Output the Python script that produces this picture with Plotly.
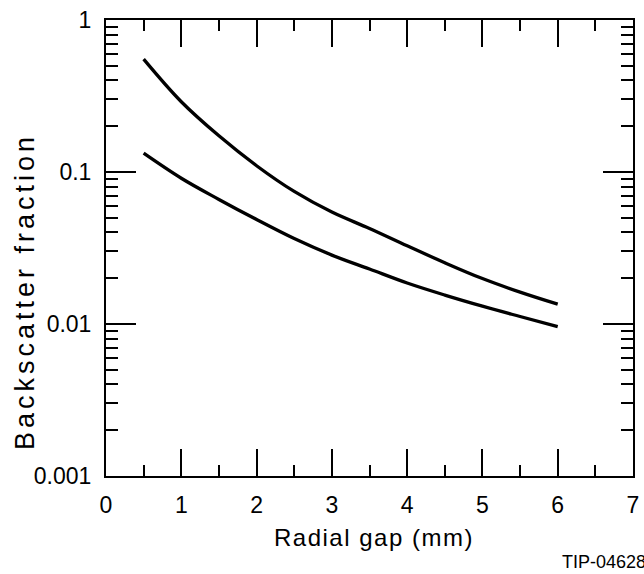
import plotly.graph_objects as go

# Data
gap_mm = [0.5, 1.0, 1.5, 2.0, 2.5, 3.0, 3.5, 4.0, 4.5, 5.0, 5.5, 6.0]
upper_fraction = [0.553, 0.29, 0.173, 0.11, 0.0745, 0.0545, 0.0425, 0.0327, 0.0253, 0.0199, 0.0162, 0.0135]
lower_fraction = [0.133, 0.091, 0.066, 0.0487, 0.0365, 0.0284, 0.0230, 0.0186, 0.0155, 0.0131, 0.0112, 0.0096]

x_ticks = [0, 1, 2, 3, 4, 5, 6, 7]
x_minor_ticks = [0.5, 1.5, 2.5, 3.5, 4.5, 5.5, 6.5]
y_ticks = [0.001, 0.01, 0.1, 1]
y_tick_labels = ["0.001", "0.01", "0.1", "1"]
y_minor_ticks = [m * d for d in (0.001, 0.01, 0.1) for m in range(2, 10)]

x_title = "Radial gap (mm)"
y_title = "Backscatter fraction"
figure_id = "TIP-04628"

FONT = "Liberation Sans, Arial, Helvetica, sans-serif"

fig = go.Figure()
for ys in (upper_fraction, lower_fraction):
    fig.add_trace(go.Scatter(
        x=gap_mm, y=ys, mode="lines",
        line=dict(color="black", width=3.3, shape="spline", smoothing=1.0),
        showlegend=False, hoverinfo="skip",
    ))

axis_common = dict(
    showgrid=False, zeroline=False,
    showline=True, linecolor="black", linewidth=2,
    mirror="allticks", ticks="inside", tickcolor="black",
    tickfont=dict(family=FONT, size=23, color="black"),
    ticklabeloverflow="allow",
)

fig.update_xaxes(
    range=[0, 7], tickvals=x_ticks, ticklen=27, tickwidth=1.5,
    minor=dict(tickvals=x_minor_ticks, ticks="inside", ticklen=11, tickwidth=1.5,
               tickcolor="black", showgrid=False),
    ticklabelstandoff=7,
    **axis_common,
)
fig.update_yaxes(
    type="log", range=[-3, 0], tickvals=y_ticks, ticktext=y_tick_labels,
    ticklen=30, tickwidth=2,
    minor=dict(tickvals=y_minor_ticks, ticks="inside", ticklen=12, tickwidth=2,
               tickcolor="black", showgrid=False),
    ticklabelstandoff=8,
    **axis_common,
)

fig.add_annotation(text='<span style="letter-spacing:1.5px">' + x_title + '</span>',
                   xref="paper", yref="paper", x=0.508, y=-0.135,
                   xanchor="center", yanchor="middle", showarrow=False,
                   font=dict(family=FONT, size=24, color="black"))
fig.add_annotation(text='<span style="letter-spacing:4px">' + y_title + '</span>',
                   xref="paper", yref="paper", x=-0.155, y=0.404,
                   xanchor="center", yanchor="middle", textangle=-90, showarrow=False,
                   font=dict(family=FONT, size=27, color="black"))
fig.add_annotation(text=figure_id, xref="paper", yref="paper", x=0.862, y=-0.1875,
                   xanchor="left", yanchor="middle", showarrow=False,
                   font=dict(family=FONT, size=18, color="black"))

fig.update_layout(
    width=644, height=574,
    margin=dict(l=106, r=5, t=20, b=98),
    plot_bgcolor="white", paper_bgcolor="white",
)

fig.write_html("out.html")
